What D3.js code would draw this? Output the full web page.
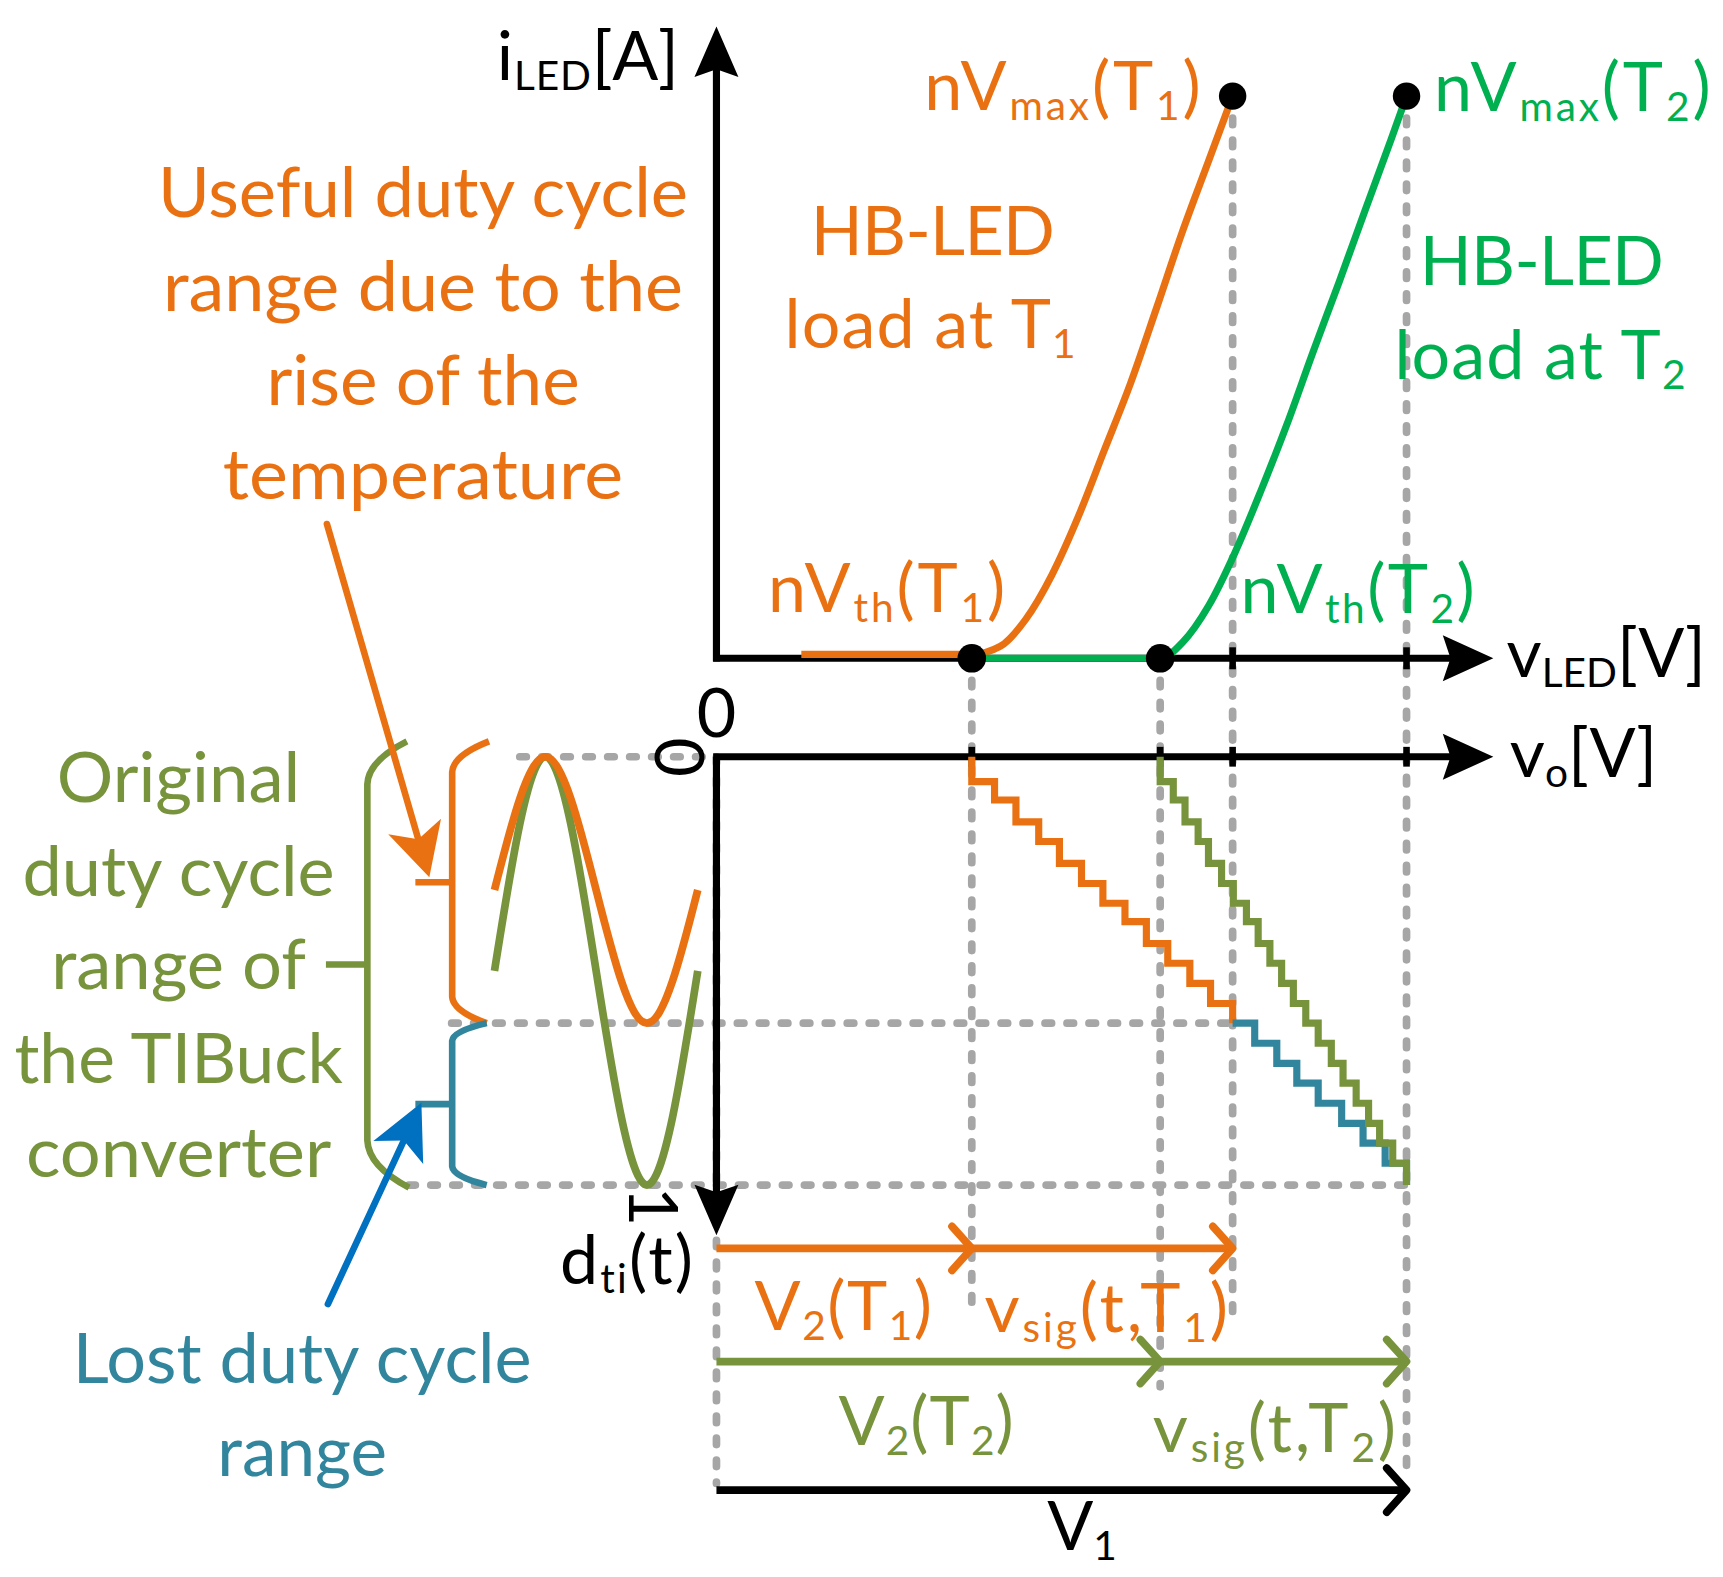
<!DOCTYPE html>
<html><head><meta charset="utf-8">
<script src="https://cdn.jsdelivr.net/npm/d3@7"></script>
<style>
html,body{margin:0;padding:0;background:#fff;}
svg{display:block;}
text{font-family:Lato,"Open Sans",sans-serif;}
</style></head><body>
<div id="chart"></div>
<script>
// ---------------- data ----------------
// LED characteristic at T1 (orange) : normalised voltage (V1 = 100) vs normalised current
const ledT1V = [12.3, 37, 41.1, 44.8, 48.6, 52.4, 56.2, 60.0, 63.8, 67.5, 71.3, 74.8];
const ledT1I = [0.007, 0.007, 0.021, 0.069, 0.148, 0.251, 0.370, 0.489, 0.624, 0.758, 0.884, 1.0];
// LED characteristic at T2 (green)
const ledT2V = [37, 64.3, 67.6, 71.3, 75.1, 78.9, 82.7, 86.4, 90.25, 94.0, 97.8, 100];
const ledT2I = [0, 0, 0.029, 0.093, 0.187, 0.298, 0.417, 0.543, 0.670, 0.797, 0.924, 1.0];
// marked points
const markNames = ["nVth(T1)", "nVth(T2)", "nVmax(T1)", "nVmax(T2)"];
const markV = [37, 64.3, 74.8, 100];
const markI = [0, 0, 1, 1];
// duty-cycle quantisation levels of the staircases
const dLevels = [0, 0.058, 0.101, 0.152, 0.198, 0.249, 0.296, 0.342, 0.385, 0.436, 0.482,
                 0.529, 0.576, 0.622, 0.669, 0.716, 0.762, 0.809, 0.856, 0.902, 0.949, 1.0];
// voltages at which each staircase drops one level
const stepsT1 = [37, 40.3, 43.4, 46.7, 49.7, 52.9, 56.0, 59.2, 62.3, 65.4, 68.6, 71.6, 74.8];
const stepsLost = [78.0, 81.2, 84.1, 87.2, 90.6, 93.7, 96.9, 100];
const stepsT2 = [64.3, 66.2, 67.9, 69.8, 71.3, 73.2, 74.9, 76.8, 78.5, 80.2, 81.9, 83.6,
                 85.4, 87.2, 89.1, 90.8, 92.7, 94.5, 96.1, 98.0, 100];
// sinusoidal modulation (one period), key points
const sineT = [0, 0.25, 0.5, 0.75, 1];
const sineT1D = [0.311, 0, 0.311, 0.622, 0.311];
const sineT2D = [0.5, 0, 0.5, 1, 0.5];
// duty-cycle ranges
const rangeUseful = [0, 0.622];
const rangeLost = [0.622, 1];
const rangeOriginal = [-0.036, 1.006];
// text
const usefulText = ["Useful duty cycle", "range due to the", "rise of the", "temperature"];
const originalText = ["Original", "duty cycle", "range of", "the TIBuck", "converter"];
const lostText = ["Lost duty cycle", "range"];

// ---------------- styles ----------------
const C = {orange:"#E97111", green:"#00B050", olive:"#77933C", teal:"#31859C",
           blue:"#0070C0", gray:"#A6A6A6", black:"#000"};
const FS = 62, SUB = 37, SHIFT = 9;

const svg = d3.select("#chart").append("svg")
  .attr("width", 1723).attr("height", 1577)
  .attr("viewBox", "0 0 1568 1435");

// ---------------- scales ----------------
const x = d3.scaleLinear().domain([0, 100]).range([652, 1280]);
const yI = d3.scaleLinear().domain([0, 1]).range([599, 87.4]);
const yD = d3.scaleLinear().domain([0, 1]).range([688.6, 1078.4]);
const tS = d3.scaleLinear().domain([0, 1]).range([450, 635]);

// ---------------- helpers ----------------
function arrowHead(g, tip, dir, L, W, notch, color){
  const n = Math.hypot(dir[0], dir[1]); const u = [dir[0]/n, dir[1]/n]; const p = [-u[1], u[0]];
  const b = [tip[0]-L*u[0], tip[1]-L*u[1]];
  const pts = [tip, [b[0]+W*p[0], b[1]+W*p[1]], [tip[0]-(L-notch)*u[0], tip[1]-(L-notch)*u[1]], [b[0]-W*p[0], b[1]-W*p[1]]];
  g.append("path").attr("d", "M" + pts.map(q => q.join(",")).join("L") + "Z").attr("fill", color);
  return [tip[0]-(L-notch-2)*u[0], tip[1]-(L-notch-2)*u[1]];
}
function gline(g, x1, y1, x2, y2, color, w){
  return g.append("line").attr("x1",x1).attr("y1",y1).attr("x2",x2).attr("y2",y2)
    .attr("stroke", color).attr("stroke-width", w);
}
function rich(g, parts, px, py, color, anchor, ls){
  const t = g.append("text").attr("x", px).attr("y", py).attr("fill", color)
    .attr("font-size", FS).attr("text-anchor", anchor || "start");
  if (ls) t.attr("letter-spacing", ls);
  let sub = false;
  parts.forEach(([s, isSub]) => {
    const ts = t.append("tspan").text(s);
    if (isSub && !sub){ ts.attr("font-size", SUB).attr("dy", SHIFT); sub = true; }
    else if (isSub){ ts.attr("font-size", SUB); }
    else if (!isSub && sub){ ts.attr("dy", -SHIFT); sub = false; }
  });
  return t;
}
function block(g, lines, cx, y0, dy, color, widths){
  lines.forEach((s, i) => {
    const t = g.append("text").attr("x", cx).attr("y", y0 + i*dy).attr("fill", color)
      .attr("font-size", FS + 2).attr("text-anchor", "middle").text(s);
    if (widths) t.attr("textLength", widths[i]).attr("lengthAdjust", "spacingAndGlyphs");
  });
}

// ---------------- grid (gray dashed) ----------------
const GW = 7;
const grid = svg.append("g").attr("stroke-linecap", "round").attr("stroke-dasharray", "6 14").attr("fill", "none");
// verticals
gline(grid, x(markV[0]), yI(0), x(markV[0]), 1189, C.gray, GW);
gline(grid, x(markV[1]), yI(0), x(markV[1]), 1262, C.gray, GW);
gline(grid, x(markV[2]), yI(1), x(markV[2]), 1195, C.gray, GW);
gline(grid, x(markV[3]), yI(1), x(markV[3]), 1347, C.gray, GW);
gline(grid, x(0), yD(0), x(0), 1350, C.gray, GW);
// horizontals
gline(grid, 473, yD(0), x(0), yD(0), C.gray, GW);
gline(grid, 411, yD(rangeLost[0]), x(markV[2]), yD(rangeLost[0]), C.gray, GW);
gline(grid, 372, yD(1), x(100), yD(1), C.gray, GW);

// ---------------- axes ----------------
const ax = svg.append("g");
// iLED axis (up)
let e = arrowHead(ax, [x(0), 24], [0, -1], 46, 20, 7, C.black);
gline(ax, x(0), yI(0) + 3, x(0), e[1], C.black, 6.5);
// vLED axis
e = arrowHead(ax, [1359, yI(0)], [1, 0], 46, 21, 7, C.black);
gline(ax, x(0) - 3, yI(0), e[0], yI(0), C.black, 6.5);
// vo axis
e = arrowHead(ax, [1359, yD(0)], [1, 0], 46, 21, 7, C.black);
gline(ax, x(0) - 3, yD(0), e[0], yD(0), C.black, 6.5);
// d axis (down)
e = arrowHead(ax, [x(0), 1124], [0, 1], 46, 20, 7, C.black);
gline(ax, x(0), yD(0), x(0), e[1], C.black, 6.5);
// ticks
[markV[2], markV[3]].forEach(v => gline(ax, x(v), yI(0) - 10, x(v), yI(0) + 10, C.black, 6));
markV.forEach(v => gline(ax, x(v), yD(0) - 9, x(v), yD(0) + 9, C.black, 6));

// ---------------- LED curves ----------------
const lineVI = d3.line().x(d => x(d[0])).y(d => yI(d[1])).curve(d3.curveMonotoneX);
svg.append("path").attr("d", lineVI(d3.zip(ledT1V, ledT1I)))
  .attr("fill", "none").attr("stroke", C.orange).attr("stroke-width", 6.5);
svg.append("path").attr("d", lineVI(d3.zip(ledT2V, ledT2I)))
  .attr("fill", "none").attr("stroke", C.green).attr("stroke-width", 6.5);
svg.selectAll("circle.mark").data(d3.zip(markV, markI)).join("circle")
  .attr("class", "mark").attr("cx", d => x(d[0])).attr("cy", d => yI(d[1]))
  .attr("r", (d, i) => i < 2 ? 13 : 12.5).attr("fill", C.black);

// ---------------- staircases ----------------
function stairs(startV, k, drops){
  const pts = [[startV, dLevels[k]]];
  drops.forEach((v, i) => { pts.push([v, dLevels[k + i]]); pts.push([v, dLevels[k + i + 1]]); });
  return pts;
}
const lineVD = d3.line().x(d => x(d[0])).y(d => yD(d[1]));
const stairG = svg.append("g").attr("fill", "none").attr("stroke-width", 6.5).attr("stroke-linejoin", "miter");
stairG.append("path").attr("d", lineVD(stairs(stepsT1[0], 0, stepsT1))).attr("stroke", C.orange);
stairG.append("path").attr("d", lineVD(stairs(markV[2], stepsT1.length, stepsLost))).attr("stroke", C.teal);
stairG.append("path").attr("d", lineVD(stairs(stepsT2[0], 0, stepsT2))).attr("stroke", C.olive);

// ---------------- sinusoids ----------------
const lineTD = d3.line().x(d => tS(d[0])).y(d => yD(d[1])).curve(d3.curveNatural);
svg.append("path").attr("d", lineTD(d3.zip(sineT, sineT2D)))
  .attr("fill", "none").attr("stroke", C.olive).attr("stroke-width", 7);
svg.append("path").attr("d", lineTD(d3.zip(sineT, sineT1D)))
  .attr("fill", "none").attr("stroke", C.orange).attr("stroke-width", 7);

// ---------------- brackets ----------------
function bracket(bx, range, wT, hT, wB, hB, tickX, color){
  const top = yD(range[0]), bot = yD(range[1]);
  const d = `M${bx + wT},${top} Q${bx + 1},${top + hT*0.45} ${bx},${top + hT} L${bx},${bot - hB} Q${bx + 1},${bot - hB*0.45} ${bx + wB},${bot}`;
  svg.append("path").attr("d", d).attr("fill", "none").attr("stroke", color).attr("stroke-width", 6);
  const mid = (top + bot) / 2;
  gline(svg, tickX, mid, bx, mid, color, 6);
}
bracket(334.3, rangeOriginal, 36, 39, 38, 43, 296.6, C.olive);
bracket(411.5, [rangeOriginal[0], rangeUseful[1]], 33.5, 28, 31.4, 24, 378, C.orange);
bracket(411.5, rangeLost, 31.4, 16, 31.4, 17, 378, C.teal);

// ---------------- pointer arrows ----------------
(function(){
  const a0 = [297.5, 476.8], tip = [390.7, 798.2];
  const end = arrowHead(svg, tip, [tip[0]-a0[0], tip[1]-a0[1]], 48, 25, 12, C.orange);
  gline(svg, a0[0], a0[1], end[0], end[1], C.orange, 6).attr("stroke-linecap", "round");
  const b0 = [298.4, 1186.7], tipB = [383.5, 1003.4];
  const endB = arrowHead(svg, tipB, [tipB[0]-b0[0], tipB[1]-b0[1]], 50, 25, 12, C.blue);
  gline(svg, b0[0], b0[1], endB[0], endB[1], C.blue, 6).attr("stroke-linecap", "round");
})();

// ---------------- bottom voltage arrows ----------------
function hArrow(v0, v1, y, color, chevrons){
  gline(svg, x(v0), y, x(v1), y, color, 7);
  chevrons.forEach(v => {
    svg.append("polyline").attr("points", `${x(v)-18},${y-20} ${x(v)},${y} ${x(v)-18},${y+20}`)
      .attr("fill", "none").attr("stroke", color).attr("stroke-width", 7)
      .attr("stroke-linecap", "round").attr("stroke-linejoin", "round");
  });
}
hArrow(0, markV[2], 1136, C.orange, [markV[0], markV[2]]);
hArrow(0, markV[3], 1239, C.olive, [markV[1], markV[3]]);
hArrow(0, markV[3], 1356, C.black, [markV[3]]);

// ---------------- labels ----------------
const lab = svg.append("g");
rich(lab, [["i"], ["LED", 1], ["[A]"]], 452, 73, C.black, null, 0.8);
rich(lab, [["nV"], ["max", 1], ["(T"], ["1", 1], [")"]], 841, 100, C.orange, null, 2.6);
rich(lab, [["nV"], ["max", 1], ["(T"], ["2", 1], [")"]], 1305, 101, C.green, null, 2.6);
rich(lab, [["HB-LED"]], 848.6, 231.6, C.orange, "middle", -0.6);
rich(lab, [["load at T"], ["1", 1]], 714, 317, C.orange, null, 1);
rich(lab, [["HB-LED"]], 1402.8, 259.2, C.green, "middle", -0.6);
rich(lab, [["load at T"], ["2", 1]], 1269, 345.3, C.green, null, 1);
rich(lab, [["nV"], ["th", 1], ["(T"], ["1", 1], [")"]], 699, 556.6, C.orange, null, 2.6);
rich(lab, [["nV"], ["th", 1], ["(T"], ["2", 1], [")"]], 1129, 558, C.green, null, 2.2);
rich(lab, [["v"], ["LED", 1], ["[V]"]], 1371, 616, C.black);
rich(lab, [["v"], ["o", 1], ["[V]"]], 1374, 707, C.black);
rich(lab, [["0"]], x(0), 671, C.black, "middle");
lab.append("text").attr("transform", "translate(596,689) rotate(90)").attr("font-size", FS)
  .attr("text-anchor", "middle").text("0");
lab.append("text").attr("transform", "translate(572,1098) rotate(90)").attr("font-size", FS)
  .attr("text-anchor", "middle").text("1");
rich(lab, [["d"], ["ti", 1], ["(t)"]], 509.6, 1168, C.black, null, 2);
rich(lab, [["V"], ["2", 1], ["(T"], ["1", 1], [")"]], 686.6, 1210.3, C.orange, null, 1.4);
rich(lab, [["v"], ["sig", 1], ["(t,T"], ["1", 1], [")"]], 896, 1212, C.orange, null, 2.6);
rich(lab, [["V"], ["2", 1], ["(T"], ["2", 1], [")"]], 763, 1315, C.olive, null, 1);
rich(lab, [["v"], ["sig", 1], ["(t,T"], ["2", 1], [")"]], 1049, 1321, C.olive, null, 2.6);
rich(lab, [["V"], ["1", 1]], 953, 1410.5, C.black);

block(lab, usefulText, 385, 197.2, 85.6, C.orange, [482.5, 473.3, 285, 364.4]);
block(lab, originalText, 162.5, 729.5, 85.4, C.olive, [221.5, 284.1, 231.8, 298.8, 277.8]);
block(lab, lostText, 275, 1258.2, 85, C.teal, [417.6, 154.4]);
</script>
</body></html>
